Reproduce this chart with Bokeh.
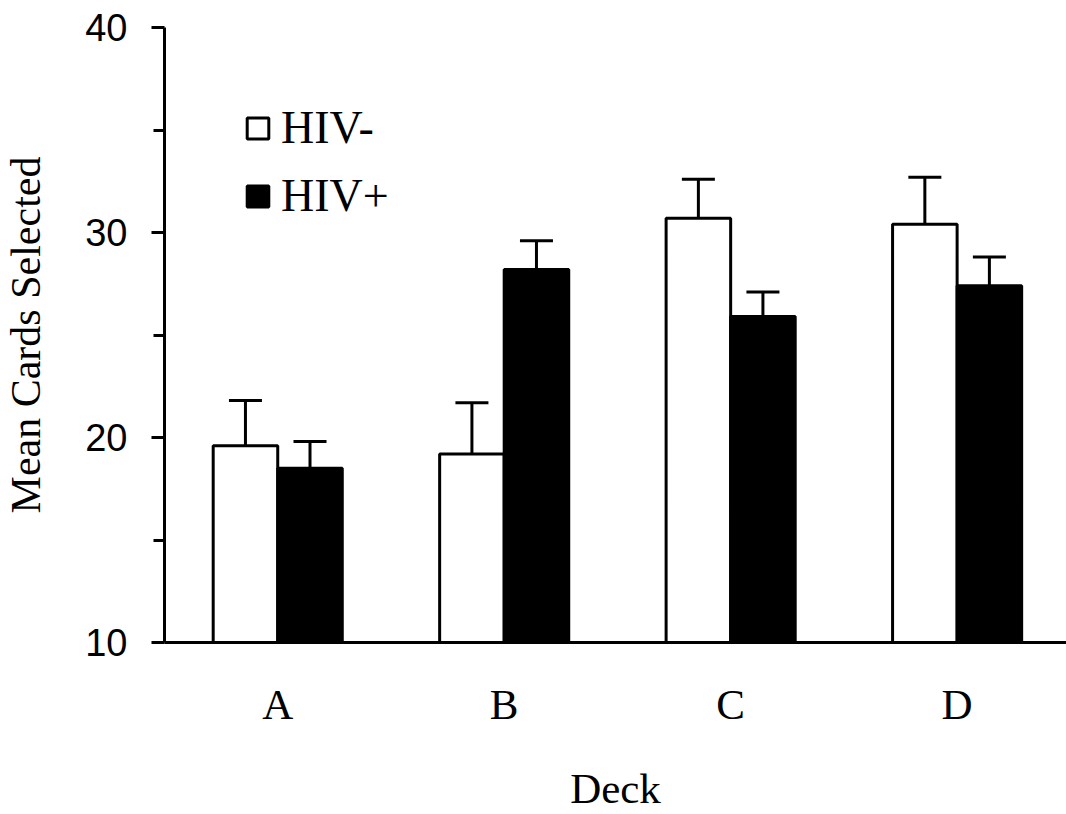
from bokeh.plotting import figure
from bokeh.models import (Range1d, FixedTicker, ColumnDataSource, Whisker, TeeHead,
                          Legend, LegendItem)
from bokeh.embed import file_html
from bokeh.resources import INLINE

decks = ["A", "B", "C", "D"]
hiv_neg = [19.6, 19.2, 30.7, 30.4]
hiv_neg_err = [2.2, 2.5, 1.9, 2.3]
hiv_pos = [18.5, 28.2, 25.9, 27.4]
hiv_pos_err = [1.3, 1.4, 1.2, 1.4]
y_ticks = [10, 20, 30, 40]
y_minor = [15, 25, 35]

centers = [i + 0.5 for i in range(len(decks))]
bw = 0.285

neg_x = [c - bw / 2 for c in centers]
pos_x = [c + bw / 2 for c in centers]
src_neg = ColumnDataSource(dict(x=neg_x, top=hiv_neg,
                                upper=[v + e for v, e in zip(hiv_neg, hiv_neg_err)]))
src_pos = ColumnDataSource(dict(x=pos_x, top=hiv_pos,
                                upper=[v + e for v, e in zip(hiv_pos, hiv_pos_err)]))

p = figure(width=1066, height=814, output_backend="svg", toolbar_location=None,
           x_range=Range1d(0, 3.983), y_range=Range1d(10, 40),
           min_border_left=159, min_border_top=27, min_border_bottom=172, min_border_right=0)
p.outline_line_color = None
p.grid.visible = False
p.background_fill_color = "white"

r_neg = p.vbar(x="x", top="top", bottom=10, width=bw, source=src_neg,
               fill_color="white", line_color="black", line_width=3)
r_pos = p.vbar(x="x", top="top", bottom=10, width=bw, source=src_pos,
               fill_color="black", line_color="black", line_width=3)

for src in (src_neg, src_pos):
    w = Whisker(source=src, base="x", lower="top", upper="upper",
                line_color="black", line_width=3,
                upper_head=TeeHead(size=33, line_color="black", line_width=3),
                lower_head=None)
    p.add_layout(w)

# y axis
p.yaxis.ticker = FixedTicker(ticks=y_ticks, minor_ticks=y_minor)
p.yaxis.axis_line_width = 3
p.yaxis.major_tick_line_width = 3
p.yaxis.minor_tick_line_width = 3
p.yaxis.major_tick_out = 13
p.yaxis.major_tick_in = 0
p.yaxis.minor_tick_out = 11
p.yaxis.minor_tick_in = 0
p.yaxis.major_label_text_font = "Liberation Sans"
p.yaxis.major_label_text_font_size = "38px"
p.yaxis.major_label_text_color = "black"
p.yaxis.major_label_standoff = 24
p.yaxis.axis_label = "Mean Cards Selected"
p.yaxis.axis_label_text_font = "Liberation Serif"
p.yaxis.axis_label_text_font_size = "42px"
p.yaxis.axis_label_text_font_style = "normal"
p.yaxis.axis_label_text_color = "black"
p.yaxis.axis_label_standoff = 33

# x axis
p.xaxis.ticker = FixedTicker(ticks=centers)
p.xaxis.major_label_overrides = {c: d for c, d in zip(centers, decks)}
p.xaxis.axis_line_width = 3
p.xaxis.major_tick_out = 0
p.xaxis.major_tick_in = 0
p.xaxis.minor_tick_out = 0
p.xaxis.minor_tick_in = 0
p.xaxis.major_label_text_font = "Liberation Serif"
p.xaxis.major_label_text_font_size = "43px"
p.xaxis.major_label_text_color = "black"
p.xaxis.major_label_standoff = 38
p.xaxis.axis_label = "Deck"
p.xaxis.axis_label_text_font = "Liberation Serif"
p.xaxis.axis_label_text_font_size = "43px"
p.xaxis.axis_label_text_font_style = "normal"
p.xaxis.axis_label_text_color = "black"
p.xaxis.axis_label_standoff = 34

legend = Legend(items=[LegendItem(label="HIV-", renderers=[r_neg]),
                       LegendItem(label="HIV+", renderers=[r_pos])],
                location=(80, 420), padding=0, margin=0, spacing=15,
                border_line_color=None, background_fill_alpha=0,
                glyph_width=27, glyph_height=26, label_standoff=10,
                label_text_font="Liberation Serif", label_text_font_size="46px",
                label_text_color="black")
p.add_layout(legend)

open("out.html", "w").write(file_html(p, INLINE))
